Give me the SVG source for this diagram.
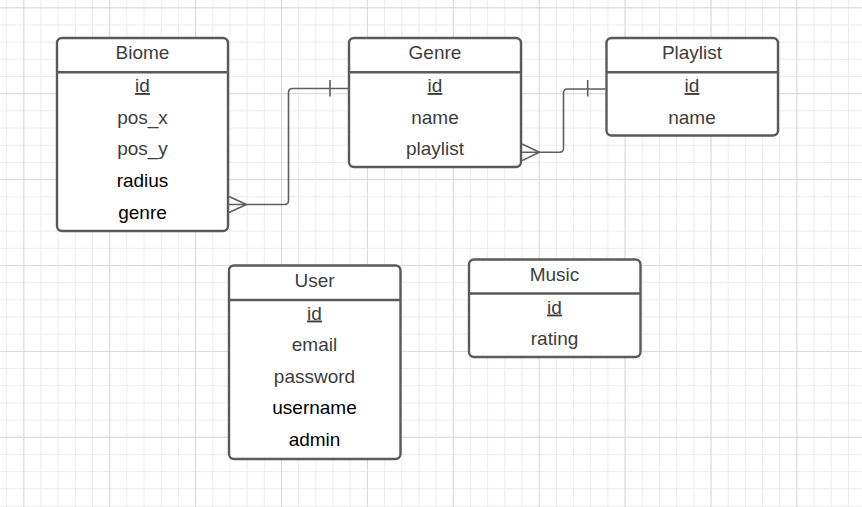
<svg xmlns="http://www.w3.org/2000/svg" width="862" height="507" viewBox="0 0 862 507">
<defs>
<pattern id="minor" x="23.3" y="7.3" width="17.18" height="17.18" patternUnits="userSpaceOnUse">
<path d="M0.5 0V17.18M0 0.5H17.18" fill="none" stroke="#ececec" stroke-width="1"/>
</pattern>
<pattern id="major" x="23.3" y="7.3" width="85.9" height="85.9" patternUnits="userSpaceOnUse">
<path d="M0.5 0V85.9M0 0.5H85.9" fill="none" stroke="#dadada" stroke-width="1"/>
</pattern>
<style>
.box{fill:#ffffff;stroke:#5a5a5a;stroke-width:2.4}
.div{stroke:#5a5a5a;stroke-width:2.4}
text{font-family:"Liberation Sans",Arial,sans-serif;font-size:19px;text-anchor:middle;fill:#3d3d3d}
.k{text-decoration:underline}
.b{fill:#000000}
.conn path{fill:none;stroke:#5e5e5e;stroke-width:1.6}
</style>
</defs>
<rect width="862" height="507" fill="#ffffff"/>
<rect width="862" height="507" fill="url(#minor)"/>
<rect width="862" height="507" fill="url(#major)"/>

<g id="Biome">
<rect class="box" x="57" y="38" width="171" height="193" rx="5"/>
<line class="div" x1="57" y1="72.3" x2="228" y2="72.3"/>
<text x="142.5" y="59">Biome</text>
<text class="k" x="142.5" y="92">id</text>
<text x="142.5" y="123.5">pos_x</text>
<text x="142.5" y="155">pos_y</text>
<text class="b" x="142.5" y="187">radius</text>
<text class="b" x="142.5" y="218.5">genre</text>
</g>

<g id="Genre">
<rect class="box" x="349" y="38" width="172" height="129" rx="5"/>
<line class="div" x1="349" y1="72.3" x2="521" y2="72.3"/>
<text x="435" y="59">Genre</text>
<text class="k" x="435" y="92">id</text>
<text x="435" y="123.5">name</text>
<text x="435" y="155">playlist</text>
</g>

<g id="Playlist">
<rect class="box" x="606.5" y="38" width="171.5" height="97.5" rx="5"/>
<line class="div" x1="606.5" y1="72.3" x2="778" y2="72.3"/>
<text x="692" y="59">Playlist</text>
<text class="k" x="692" y="92">id</text>
<text x="692" y="123.5">name</text>
</g>

<g id="User">
<rect class="box" x="229" y="265.5" width="171.5" height="193.5" rx="5"/>
<line class="div" x1="229" y1="300" x2="400.5" y2="300"/>
<text x="314.5" y="287">User</text>
<text class="k" x="314.5" y="319.5">id</text>
<text x="314.5" y="351">email</text>
<text x="314.5" y="382.5">password</text>
<text class="b" x="314.5" y="414">username</text>
<text class="b" x="314.5" y="445.5">admin</text>
</g>

<g id="Music">
<rect class="box" x="469" y="259.5" width="171.5" height="97.5" rx="5"/>
<line class="div" x1="469" y1="293.5" x2="640.5" y2="293.5"/>
<text x="554.5" y="281">Music</text>
<text class="k" x="554.5" y="313.5">id</text>
<text x="554.5" y="345">rating</text>
</g>

<g class="conn" id="connectors">
<path d="M229 204.5H284.5Q288.5 204.5 288.5 200.5V92.5Q288.5 88.5 292.5 88.5H348"/>
<path d="M330 80V96.5"/>
<path d="M229 196.5L246.5 204.5L229 212.5"/>
<path d="M522 152.3H559.5Q563.5 152.3 563.5 148.3V93Q563.5 89 567.5 89H605.5"/>
<path d="M587.7 80V96.5"/>
<path d="M522 144L539.5 152.3L522 160.6"/>
</g>
</svg>
